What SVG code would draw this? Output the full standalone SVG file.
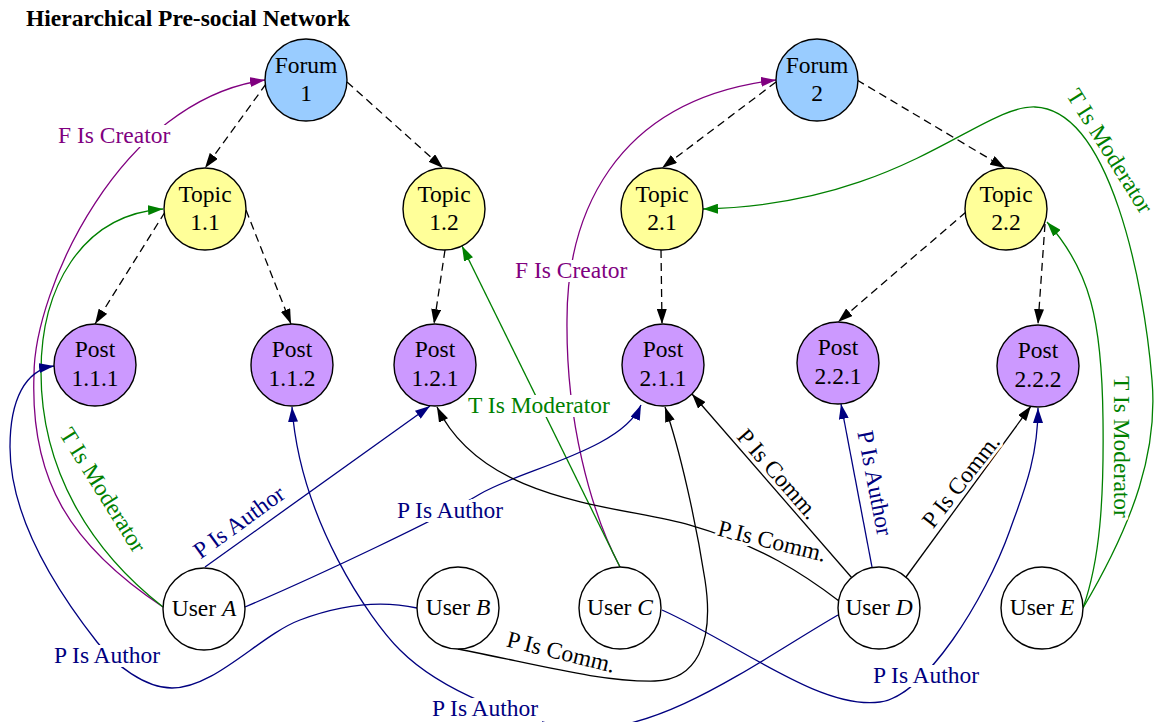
<svg xmlns="http://www.w3.org/2000/svg" width="1157" height="722" viewBox="0 0 1157 722">
<defs>
<style>
.n circle{stroke:#000;stroke-width:1.4}
.n text,.title{font-family:"Liberation Serif","Times New Roman",serif;font-size:23.5px;fill:#000;text-anchor:middle}
.title{font-weight:bold;text-anchor:start}
.forum circle{fill:#99ccff}
.topic circle{fill:#ffff99}
.post circle{fill:#cc99ff}
.user circle{fill:#fff}
.e{fill:none;stroke-width:1.3}
.d{stroke:#000;stroke-dasharray:8 5;marker-end:url(#ak)}
.k{stroke:#000;marker-end:url(#ak)}
.b{stroke:#000080;marker-end:url(#ab)}
.g{stroke:#008000;marker-end:url(#ag)}
.p{stroke:#800080;marker-end:url(#ap)}
.bg{fill:#fff}
.l{font-family:"Liberation Serif","Times New Roman",serif;font-size:23.5px;stroke:#fff;stroke-width:6;stroke-linejoin:round;paint-order:stroke}
.lk{fill:#000}.lb{fill:#000080}.lg{fill:#008000}.lp{fill:#800080}
.c{text-anchor:middle}
</style>
<marker id="ak" viewBox="0 0 15 10" refX="15" refY="5" markerWidth="15" markerHeight="10" markerUnits="userSpaceOnUse" orient="auto"><path d="M0,0 L15,5 L0,10 z" fill="#000"/></marker>
<marker id="ab" viewBox="0 0 15 10" refX="15" refY="5" markerWidth="15" markerHeight="10" markerUnits="userSpaceOnUse" orient="auto"><path d="M0,0 L15,5 L0,10 z" fill="#000080"/></marker>
<marker id="ag" viewBox="0 0 15 10" refX="15" refY="5" markerWidth="15" markerHeight="10" markerUnits="userSpaceOnUse" orient="auto"><path d="M0,0 L15,5 L0,10 z" fill="#008000"/></marker>
<marker id="ap" viewBox="0 0 15 10" refX="15" refY="5" markerWidth="15" markerHeight="10" markerUnits="userSpaceOnUse" orient="auto"><path d="M0,0 L15,5 L0,10 z" fill="#800080"/></marker>
</defs>
<rect width="1157" height="722" fill="#fff"/>
<text class="title" x="26" y="26">Hierarchical Pre-social Network</text>

<g id="connectors">
<path class="e d" d="M266,84 L205,168"/>
<path class="e d" d="M347,82 L443,168"/>
<path class="e d" d="M776,82 L662,168"/>
<path class="e d" d="M857,80 L1005,168"/>
<path class="e d" d="M165,212 L95,324"/>
<path class="e d" d="M246,210 L291,324"/>
<path class="e d" d="M445,250 L434,324"/>
<path class="e d" d="M661,250 L662,324"/>
<path class="e d" d="M966,212 L838,322"/>
<path class="e d" d="M1045,224 L1038,324"/>

<path class="e p" d="M163,607 C70,545 30,480 34,375 C34,290 120,100 265,80"/>
<path class="e p" d="M620,567 C590,510 566,420 567,320 C567,220 610,100 776,80"/>

<path class="e g" d="M163,607 C90,550 41,470 41,372 C41,290 80,215 163,209"/>
<path class="e g" d="M620,567 L462,246"/>
<path class="e g" d="M1083,608 C1135,520 1158,450 1152,380 C1144,282 1110,110 1035,107 C980,105 900,205 703,209"/>
<path class="e g" d="M1083,608 C1100,560 1104,500 1103,420 C1102,320 1090,270 1047,222"/>

<path class="e b" d="M417,608 C380,600 340,605 300,620 C260,635 215,688 172,688 C145,688 115,665 97,642 C75,614 10,530 10,447 C10,400 25,370 54,366"/>
<path class="e b" d="M205,567 L430,406"/>
<path class="e b" d="M245,607 C320,575 440,518 480,494 C520,470 622,450 641,405"/>
<path class="e b" d="M838,615 C760,660 660,735 580,728 C520,723 440,690 400,650 C370,620 300,520 292,407"/>
<path class="e b" d="M662,610 C740,645 820,710 880,702 C925,696 985,600 1010,530 C1022,496 1038,460 1038,408"/>
<path class="e b" d="M872,567 L841,404"/>

<path class="e k" d="M458,649 C540,665 600,682 655,681 C695,680 715,645 705,580 C696,522 680,450 665,407"/>
<path class="e k" d="M839,601 C805,575 760,545 690,525 C620,505 484,504 437,407"/>
<path class="e k" d="M852,578 L692,394"/>
<path class="e k" d="M906,577 L1031,406"/>
</g>

<g id="labels">
<rect class="bg" x="56" y="125" width="117" height="22"/>
<text class="l lp" x="58" y="143">F Is Creator</text>
<rect class="bg" x="513" y="260" width="117" height="22"/>
<text class="l lp" x="515" y="278">F Is Creator</text>
<rect class="bg" x="466" y="395" width="147" height="22"/>
<text class="l lg" x="468" y="413">T Is Moderator</text>
<text class="l lg c" transform="translate(103,490) rotate(58)" dy="0.33em">T Is Moderator</text>
<text class="l lg c" transform="translate(1110,151) rotate(58)" dy="0.33em">T Is Moderator</text>
<text class="l lg c" transform="translate(1122,447) rotate(90)" dy="0.33em">T Is Moderator</text>
<rect class="bg" x="52" y="645" width="112" height="22"/>
<text class="l lb" x="54" y="663">P Is Author</text>
<text class="l lb c" transform="translate(239,522) rotate(-36)" dy="0.33em">P Is Author</text>
<rect class="bg" x="395" y="500" width="112" height="22"/>
<text class="l lb" x="397" y="518">P Is Author</text>
<rect class="bg" x="430" y="698" width="112" height="24"/>
<text class="l lb" x="432" y="716">P Is Author</text>
<text class="l lb c" transform="translate(875,483) rotate(79)" dy="0.33em">P Is Author</text>
<rect class="bg" x="871" y="665" width="112" height="22"/>
<text class="l lb" x="873" y="683">P Is Author</text>
<text class="l lk c" transform="translate(561,652) rotate(14)" dy="0.33em">P Is Comm.</text>
<text class="l lk c" transform="translate(772,541) rotate(14)" dy="0.33em">P Is Comm.</text>
<text class="l lk c" transform="translate(778,474) rotate(49)" dy="0.33em">P Is Comm.</text>
<text class="l lk c" transform="translate(961,481) rotate(-52)" dy="0.33em">P Is Comm.</text>
</g>

<g id="forum1" class="n forum"><circle cx="306" cy="80" r="41"/><text x="306" y="73">Forum</text><text x="306" y="101">1</text></g>
<g id="forum2" class="n forum"><circle cx="817" cy="80" r="41"/><text x="817" y="73">Forum</text><text x="817" y="101">2</text></g>
<g id="topic11" class="n topic"><circle cx="205" cy="209" r="41"/><text x="205" y="202">Topic</text><text x="205" y="230">1.1</text></g>
<g id="topic12" class="n topic"><circle cx="444" cy="209" r="41"/><text x="444" y="202">Topic</text><text x="444" y="230">1.2</text></g>
<g id="topic21" class="n topic"><circle cx="662" cy="209" r="41"/><text x="662" y="202">Topic</text><text x="662" y="230">2.1</text></g>
<g id="topic22" class="n topic"><circle cx="1006" cy="209" r="41"/><text x="1006" y="202">Topic</text><text x="1006" y="230">2.2</text></g>
<g id="post111" class="n post"><circle cx="95" cy="365" r="41"/><text x="95" y="357">Post</text><text x="95" y="386">1.1.1</text></g>
<g id="post112" class="n post"><circle cx="292" cy="365" r="41"/><text x="292" y="357">Post</text><text x="292" y="386">1.1.2</text></g>
<g id="post121" class="n post"><circle cx="435" cy="365" r="41"/><text x="435" y="357">Post</text><text x="435" y="386">1.2.1</text></g>
<g id="post211" class="n post"><circle cx="663" cy="365" r="41"/><text x="663" y="357">Post</text><text x="663" y="386">2.1.1</text></g>
<g id="post221" class="n post"><circle cx="838" cy="363" r="41"/><text x="838" y="355">Post</text><text x="838" y="384">2.2.1</text></g>
<g id="post222" class="n post"><circle cx="1038" cy="366" r="41"/><text x="1038" y="358">Post</text><text x="1038" y="387">2.2.2</text></g>
<g id="userA" class="n user"><circle cx="204" cy="609" r="41"/><text x="204" y="616">User <tspan font-style="italic">A</tspan></text></g>
<g id="userB" class="n user"><circle cx="458" cy="608" r="41"/><text x="458" y="615">User <tspan font-style="italic">B</tspan></text></g>
<g id="userC" class="n user"><circle cx="620" cy="608" r="41"/><text x="620" y="615">User <tspan font-style="italic">C</tspan></text></g>
<g id="userD" class="n user"><circle cx="879" cy="608" r="41"/><text x="879" y="615">User <tspan font-style="italic">D</tspan></text></g>
<g id="userE" class="n user"><circle cx="1042" cy="608" r="41"/><text x="1042" y="615">User <tspan font-style="italic">E</tspan></text></g>
</svg>
